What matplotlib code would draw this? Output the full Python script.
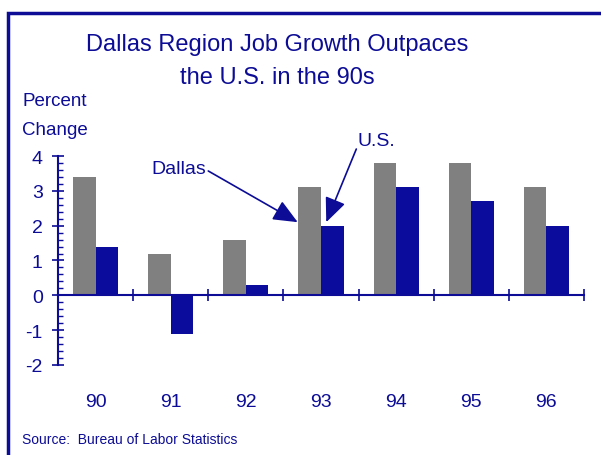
import matplotlib.pyplot as plt
import matplotlib.patches as mpatches
import numpy as np

years = ['90', '91', '92', '93', '94', '95', '96']
dallas = [3.4, 1.2, 1.6, 3.1, 3.8, 3.8, 3.1]
us = [1.4, -1.1, 0.3, 2.0, 3.1, 2.7, 2.0]

navy = '#0c0c96'
gray = '#808080'
bar_blue = '#0c0c9c'

plt.rcParams['font.family'] = ['Liberation Sans', 'DejaVu Sans']
plt.rcParams['axes.unicode_minus'] = False

fig = plt.figure(figsize=(6.01, 4.56), dpi=100)
ax = fig.add_axes([0.0965, 0.1974, 0.8752, 0.4583])

x = np.arange(len(years))
w = 0.3
ax.bar(x - w / 2, dallas, w, color=gray, zorder=2)
ax.bar(x + w / 2, us, w, color=bar_blue, zorder=2)

ax.set_xlim(-0.5, 6.5)
ax.set_ylim(-2, 4)

for s in ['top', 'right']:
    ax.spines[s].set_visible(False)
ax.spines['bottom'].set_position(('data', 0))
for s in ['left', 'bottom']:
    ax.spines[s].set_color(navy)
    ax.spines[s].set_linewidth(1.5)

ax.set_xticks(np.arange(-0.5, 7, 1))
ax.set_xticklabels([])
ax.tick_params(axis='x', direction='inout', length=8, width=1.2, color=navy)
ax.set_yticks(range(-2, 5))
ax.set_yticks(np.arange(-2, 4.01, 0.2), minor=True)
ax.tick_params(axis='y', which='major', direction='inout', length=8, width=1.2,
               color=navy, labelcolor=navy, labelsize=14, pad=7)
ax.tick_params(axis='y', which='minor', direction='in', length=3.5, width=1,
               color=navy)

for i, yr in enumerate(years):
    ax.text(i, -0.177, yr, transform=ax.get_xaxis_transform(), ha='center',
            va='center', fontsize=14, color=navy)

head = '-|>,head_length=1.5,head_width=0.65'
ax.annotate('', xy=(2.69, 2.1), xytext=(1.5, 3.57), annotation_clip=False,
            arrowprops=dict(arrowstyle=head, color=navy, lw=1.2,
                            shrinkA=0, shrinkB=0))
ax.text(1.47, 3.65, 'Dallas', ha='right', va='center', fontsize=14, color=navy)
ax.annotate('', xy=(3.07, 2.1), xytext=(3.47, 4.2), annotation_clip=False,
            arrowprops=dict(arrowstyle=head, color=navy, lw=1.2,
                            shrinkA=0, shrinkB=0))
ax.text(3.48, 4.45, 'U.S.', ha='left', va='center', fontsize=14, color=navy)

fig.text(0.461, 0.901, 'Dallas Region Job Growth Outpaces', ha='center',
         va='center', fontsize=17, color=navy)
fig.text(0.461, 0.829, 'the U.S. in the 90s', ha='center', va='center',
         fontsize=17, color=navy)
fig.text(0.037, 0.778, 'Percent', ha='left', va='center', fontsize=13.5, color=navy)
fig.text(0.037, 0.714, 'Change', ha='left', va='center', fontsize=13.5, color=navy)
fig.text(0.037, 0.035, 'Source:  Bureau of Labor Statistics', ha='left',
         va='center', fontsize=10, color=navy)

fig.patches.append(mpatches.Rectangle((0.013, -0.05), 1.1, 1.02,
                                      transform=fig.transFigure, fill=False,
                                      edgecolor=navy, lw=2.5))

fig.savefig('out.png', dpi=100)
